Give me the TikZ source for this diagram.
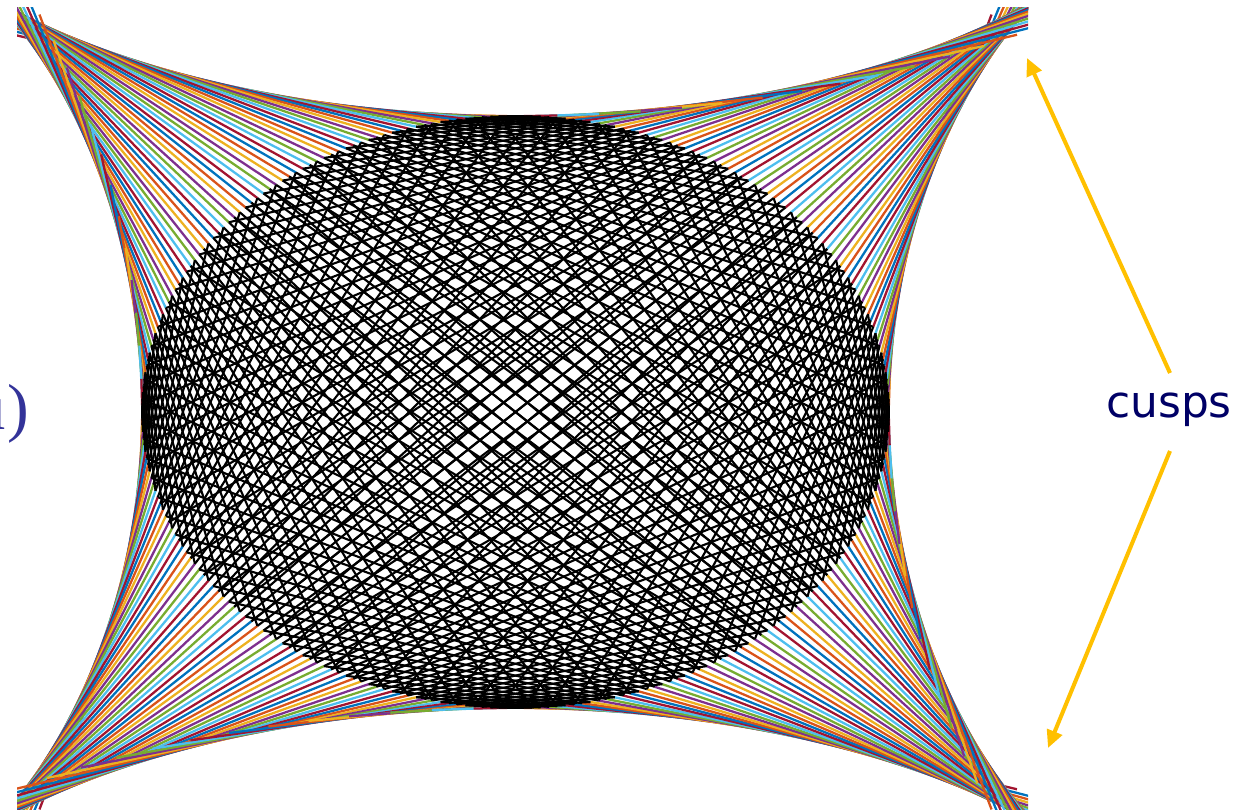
\documentclass[tikz,border=0pt]{standalone}
\usepackage{fontspec}
\newfontfamily\cuspfont{DejaVu Sans}
\newfontfamily\serfont{Liberation Serif}
\definecolor{mc0}{RGB}{0, 114, 189}
\definecolor{mc1}{RGB}{217, 83, 25}
\definecolor{mc2}{RGB}{237, 177, 32}
\definecolor{mc3}{RGB}{126, 47, 142}
\definecolor{mc4}{RGB}{119, 172, 48}
\definecolor{mc5}{RGB}{77, 190, 238}
\definecolor{mc6}{RGB}{162, 20, 47}
\definecolor{cuspyellow}{RGB}{255, 192, 0}
\definecolor{cuspnavy}{RGB}{0, 0, 102}
\definecolor{serblue}{RGB}{51, 51, 153}
\usetikzlibrary{arrows.meta}

\begin{document}
\begin{tikzpicture}[x=0.02cm, y=-0.02cm,
    cuspArrow/.style={-{Triangle[length=10pt, width=9pt]}, cuspyellow, line width=2.3pt}]
    \useasboundingbox (0,0) rectangle (1255,809);
    % rays outside the ellipse, chords t -> -3t inside
    \begin{scope}
      \clip (17,7) rectangle (1028,809);
      \foreach \k in {0,...,279}{
        \pgfmathsetmacro\ang{9/7*\k}
        \pgfmathtruncatemacro\ci{mod(\k,7)}
        \pgfmathsetmacro\ux{515.5+373.5*cos(\ang)}
        \pgfmathsetmacro\uy{412-296*sin(\ang)}
        \pgfmathsetmacro\sk{2*sin(2*\ang)}
        \draw[mc\ci, line width=1.3pt] (\ux,\uy) -- ++({\sk*373.5*sin(\ang)},{-\sk*296*cos(\ang)});
      }
      \foreach \k in {0,...,279}{
        \pgfmathsetmacro\ang{9/7*\k}
        \pgfmathsetmacro\ux{515.5+373.5*cos(\ang)}
        \pgfmathsetmacro\uy{412-296*sin(\ang)}
        \draw[black, line width=1.2pt] (\ux,\uy) -- ({515.5+373.5*cos(-3*\ang)},{412-296*sin(-3*\ang)});
      }
    \end{scope}
    \node[font=\serfont\fontsize{37}{44}\selectfont, text=serblue, anchor=base east] (param) at (35,429) {μ)};
    \node[font=\cuspfont\fontsize{25}{30}\selectfont, text=cuspnavy] (cusps) at (1169,410) {cusps};
    \coordinate (upStart) at (1170,373);
    \coordinate (cuspTR) at (1027,58);
    \coordinate (downStart) at (1170,451);
    \coordinate (cuspBR) at (1048,748);
    \draw[cuspArrow] (upStart) -- (cuspTR);
    \draw[cuspArrow] (downStart) -- (cuspBR);
\end{tikzpicture}
\end{document}
